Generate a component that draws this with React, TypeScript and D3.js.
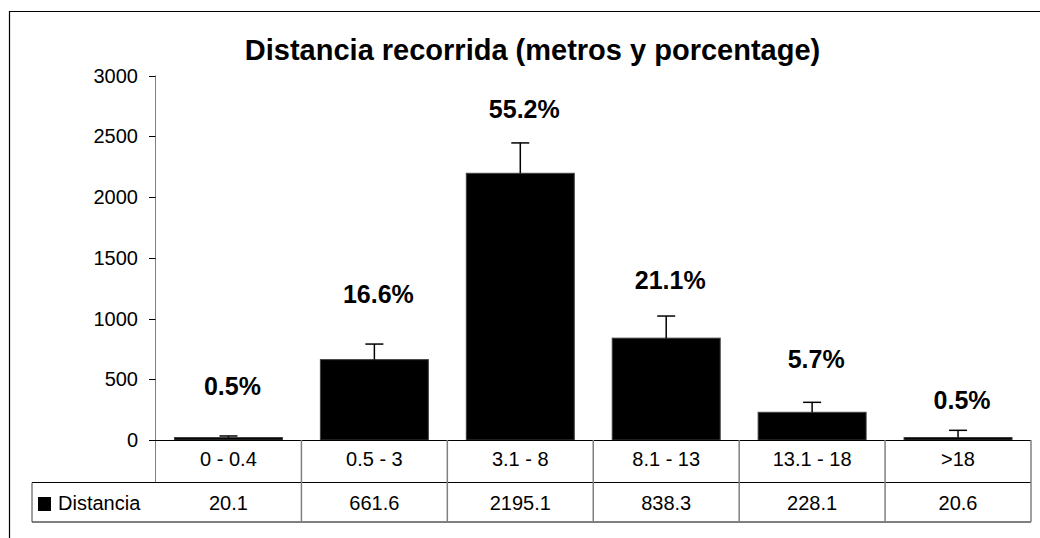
import React from 'react';
import * as d3 from 'd3';

const categories = ['0 - 0.4', '0.5 - 3', '3.1 - 8', '8.1 - 13', '13.1 - 18', '>18'];
const distancia = [20.1, 661.6, 2195.1, 838.3, 228.1, 20.6];
const errorPlus = [13, 128, 250, 182, 82, 59];
const percentLabels = ['0.5%', '16.6%', '55.2%', '21.1%', '5.7%', '0.5%'];
// where each percent label sits, in metres
const percentLabelAt = [370, 1125, 2650, 1240, 595, 255];
const yTicks = [0, 500, 1000, 1500, 2000, 2500, 3000];

const W = 1040;
const H = 538;
const FONT = '"Liberation Sans", Arial, sans-serif';

const App: React.FC = () => {
  const left = 155.5;
  const right = 1031;
  const base = 440;

  const y = d3.scaleLinear().domain([0, 3000]).range([base, 75.5]);
  const cell = d3.scaleBand<string>().domain(categories).range([left, right]).padding(0);
  const x = d3.scaleBand<string>().domain(categories).range([left, right]).paddingInner(0.26).paddingOuter(0.13);

  const rowMid = 482.5;
  const rowBot = 522;
  const legendLeft = 32;

  return (
    <svg width={W} height={H} style={{ position: 'fixed', left: 0, top: 0, background: '#fff' }} fontFamily={FONT}>
      <rect x={0} y={0} width={W} height={H} fill="#fff" />
      {/* chart border */}
      <path d={`M9.5,${H} V11.5 H${W}`} fill="none" stroke="#000" strokeWidth={1.2} />

      <text x={532.5} y={59.5} textAnchor="middle" fontSize={29} fontWeight="bold" fill="#000">
        Distancia recorrida (metros y porcentage)
      </text>

      {/* y axis */}
      <line x1={left} x2={left} y1={y(3000)} y2={rowMid} stroke="#808080" strokeWidth={1} />
      {yTicks.map(t => (
        <g key={t}>
          <line x1={149} x2={left} y1={Math.round(y(t)) + 0.5} y2={Math.round(y(t)) + 0.5} stroke="#000" strokeWidth={1} />
          <text x={138} y={y(t) + 7} textAnchor="end" fontSize={20} fill="#000">{t}</text>
        </g>
      ))}

      {/* bars */}
      {categories.map((c, i) => (
        <rect key={c} x={x(c)} y={y(distancia[i])} width={x.bandwidth()} height={base - y(distancia[i])}
          fill="#000" stroke="#404040" strokeWidth={1} />
      ))}

      {/* error bars */}
      {categories.map((c, i) => {
        const cx = (x(c) as number) + x.bandwidth() / 2;
        const top = y(distancia[i] + errorPlus[i]);
        return (
          <g key={c} stroke="#000" strokeWidth={1.5}>
            <line x1={cx} x2={cx} y1={y(distancia[i])} y2={top} />
            <line x1={cx - 9} x2={cx + 9} y1={top} y2={top} />
          </g>
        );
      })}

      {/* percent labels */}
      {categories.map((c, i) => (
        <text key={c} x={(x(c) as number) + x.bandwidth() / 2 + 4} y={y(percentLabelAt[i])} textAnchor="middle"
          fontSize={25} fontWeight="bold" fill="#000">{percentLabels[i]}</text>
      ))}

      {/* data table */}
      <line x1={149} x2={right} y1={base + 0.5} y2={base + 0.5} stroke="#000" strokeWidth={1} />
      <line x1={legendLeft} x2={right} y1={rowMid} y2={rowMid} stroke="#000" strokeWidth={1} />
      <line x1={legendLeft} x2={right} y1={rowBot} y2={rowBot} stroke="#000" strokeWidth={1} />
      <line x1={legendLeft} x2={legendLeft} y1={rowMid} y2={rowBot} stroke="#404040" strokeWidth={1} />
      {categories.map(c => (
        <line key={c} x1={(cell(c) as number) + cell.bandwidth()} x2={(cell(c) as number) + cell.bandwidth()}
          y1={base} y2={rowBot} stroke="#808080" strokeWidth={1.5} />
      ))}
      {categories.map((c, i) => (
        <g key={c}>
          <text x={(cell(c) as number) + cell.bandwidth() / 2} y={466} textAnchor="middle" fontSize={20} fill="#000">{c}</text>
          <text x={(cell(c) as number) + cell.bandwidth() / 2} y={510} textAnchor="middle" fontSize={20} fill="#000">{distancia[i]}</text>
        </g>
      ))}
      <rect x={38} y={497} width={13} height={14} fill="#000" />
      <text x={58} y={510} fontSize={20} fill="#000">Distancia</text>
    </svg>
  );
};

export default App;
